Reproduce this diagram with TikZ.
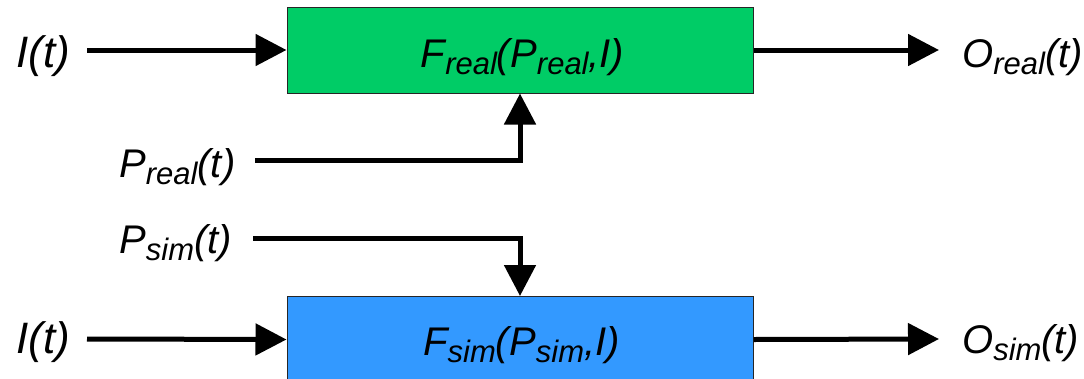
\documentclass[tikz,border=0pt]{standalone}
\usepackage{fontspec}
\setmainfont{Liberation Sans}
\usetikzlibrary{arrows.meta,calc}
\definecolor{boxgreen}{HTML}{00CC66}
\definecolor{boxblue}{HTML}{3399FF}
\newcommand{\sbs}[1]{\raisebox{-7pt}{\fontsize{31}{31}\selectfont #1}}
\begin{document}
\begin{tikzpicture}[x=1pt,y=-1pt,
  fnbox/.style={draw=black!85,line width=1pt,minimum width=466pt,minimum height=86pt,inner sep=0pt},
  lbl/.style={inner sep=0pt,font=\fontsize{40}{44}\selectfont\itshape},
  biglbl/.style={inner sep=0pt,font=\fontsize{44}{48}\selectfont\itshape},
  arr/.style={line width=5pt,-{Triangle[length=31pt,width=31pt]}}]
\useasboundingbox (0,0) rectangle (1084,378);
\clip (0,0) rectangle (1084,378);
% boxes
\node[fnbox,fill=boxgreen] (freal) at (520,50) {};
\node[fnbox,fill=boxblue] (fsim) at (520,339.5) {};
\node[lbl,anchor=base] (trealtxt) at (522.5,67) {F\sbs{real}(P\sbs{real},I)};
\node[lbl,anchor=base] (tsimtxt) at (521.5,355) {F\sbs{sim}(P\sbs{sim},I)};
% labels
\node[biglbl,anchor=base west] (itop) at (16,67) {I(t)};
\node[biglbl,anchor=base west] (ibot) at (16,353) {I(t)};
\node[lbl,anchor=base west] (preal) at (119,177) {P\sbs{real}(t)};
\node[lbl,anchor=base west] (psim) at (119,253) {P\sbs{sim}(t)};
\node[lbl,anchor=base west] (oreal) at (962,67) {O\sbs{real}(t)};
\node[lbl,anchor=base west] (osim) at (962,353) {O\sbs{sim}(t)};
% connector ends
\coordinate (itopS) at (87,50);
\coordinate (ibotS) at (87,339);
\coordinate (orealE) at (939,50);
\coordinate (osimE) at (939,339);
\coordinate (prealS) at (255,160);
\coordinate (psimS) at (253,238);
% connectors
\draw[arr] (itopS) -- (freal.west);
\draw[arr] (freal.east) -- (orealE);
\draw[arr] (ibotS) -- (fsim.west);
\draw[arr] (fsim.east) -- (osimE);
\draw[arr] (prealS) -| (freal.south);
\draw[arr] (psimS) -| (fsim.north);
\end{tikzpicture}
\end{document}
